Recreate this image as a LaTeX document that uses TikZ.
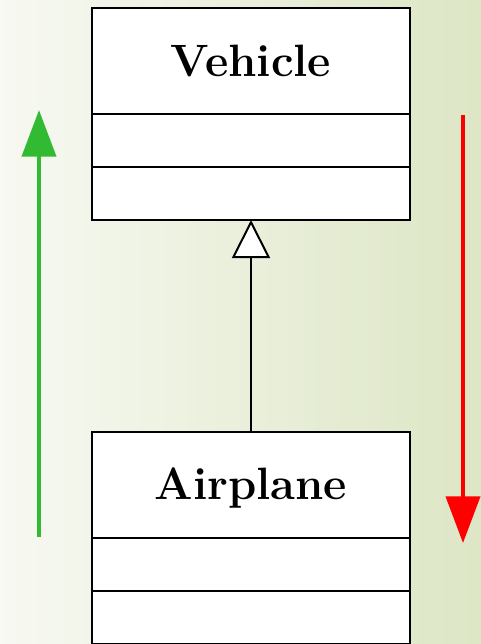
\documentclass[tikz,border=0pt]{standalone}
\usetikzlibrary{positioning,arrows.meta}
\def\px{0.75pt}
\definecolor{bgleft}{RGB}{247,249,242}
\definecolor{bgright}{RGB}{221,230,197}
\definecolor{upgreen}{RGB}{50,187,50}
\tikzset{
  classbox/.style={draw, fill=white, line width=1.5pt, minimum width=318*\px, outer sep=0pt, inner sep=0pt},
  classname/.style={classbox, minimum height=106*\px, text height=23pt, text depth=0pt,
    font=\fontsize{34}{40}\selectfont\bfseries},
  classpart/.style={classbox, minimum height=53*\px},
  inherits/.style={line width=1.5pt, -{Triangle[fill=white, length=28.5pt, width=28.5pt]}},
  flow/.style={line width=3pt, -{Triangle[length=35pt, width=25.5pt]}}
}

\begin{document}
\begin{tikzpicture}[x=\px, y=-\px]
  \useasboundingbox (0,0) rectangle (481,644);
  \shade[left color=bgleft, right color=bgright] (0,0) rectangle (481,644);
  % superclass
  \node[classname] (vehicle) at (251,61) {Vehicle};
  \node[classpart, below=0pt of vehicle] (vehicle attr) {};
  \node[classpart, below=0pt of vehicle attr] (vehicle ops) {};
  % subclass
  \node[classname] (plane) at (251,484.5) {Airplane};
  \node[classpart, below=0pt of plane] (plane attr) {};
  \node[classpart, below=0pt of plane attr] (plane ops) {};
  \draw[inherits] (plane.north) -- (vehicle ops.south);
  % direction arrows
  \coordinate (up from) at (39,537);
  \coordinate (up to) at (39,110);
  \coordinate (down from) at (463,115);
  \coordinate (down to) at (463,543);
  \draw[flow, upgreen] (up from) -- (up to);
  \draw[flow, red] (down from) -- (down to);
\end{tikzpicture}
\end{document}
